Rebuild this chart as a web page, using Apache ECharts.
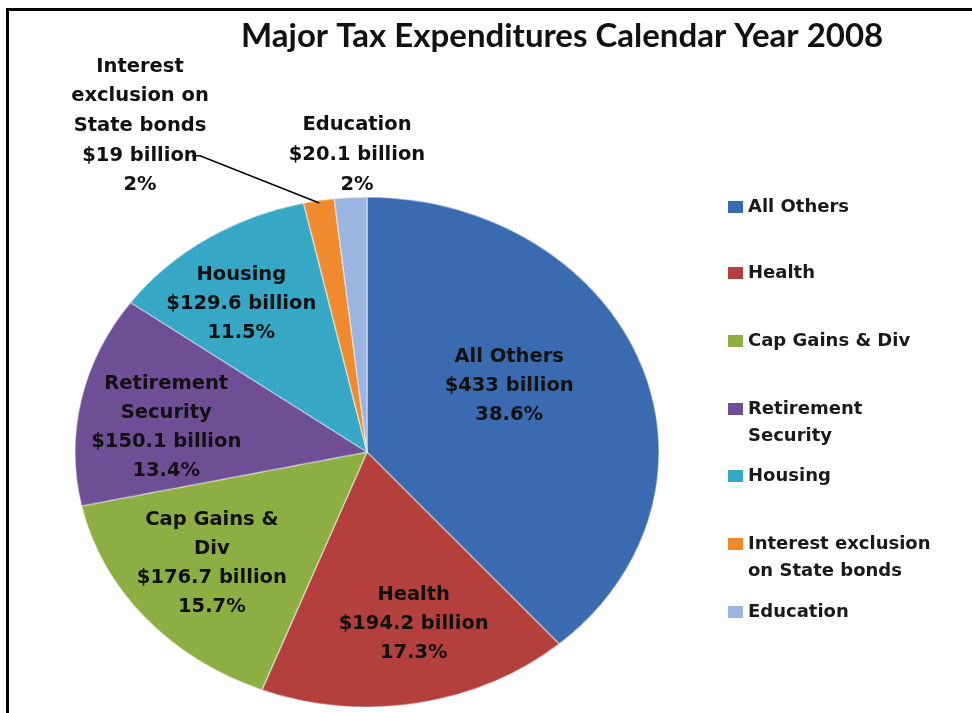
<!DOCTYPE html>
<html><head><meta charset="utf-8">
<script src="https://cdn.jsdelivr.net/npm/echarts@6/dist/echarts.min.js"></script>
<style>
html,body{margin:0;padding:0;background:#fff;}
#wrap{position:relative;width:972px;height:713px;overflow:hidden;background:#fff;}
#pie{position:absolute;left:0;top:0;width:972px;height:820px;transform:scaleY(0.8733);transform-origin:367px 452px;}
#main{position:absolute;left:0;top:0;width:972px;height:713px;}
#frame{position:absolute;left:6px;top:8px;right:-10px;bottom:-10px;border-top:3px solid #000;border-left:3px solid #000;pointer-events:none;}
</style></head><body>
<div id="wrap"><div id="pie"></div><div id="main"></div><div id="frame"></div></div>
<script>
// ---- data ----
const categories = ['All Others','Health','Cap Gains & Div','Retirement Security','Housing','Interest exclusion on State bonds','Education'];
const values = [433, 194.2, 176.7, 150.1, 129.6, 19, 20.1];           // $ billion
const percentLabels = ['38.6%','17.3%','15.7%','13.4%','11.5%','2%','2%'];
const sliceLabelNames = ['All Others','Health','Cap Gains &\nDiv','Retirement\nSecurity','Housing','Interest\nexclusion on\nState bonds','Education'];
const legendLabelNames = ['All Others','Health','Cap Gains & Div','Retirement\nSecurity','Housing','Interest exclusion\non State bonds','Education'];
const titleText = 'Major Tax Expenditures Calendar Year 2008';

// ---- styles / layout ----
const colors = ['#3A6BB1','#B3403C','#8CAE42','#6E4F96','#36A7C4','#F08A2E','#9CB5E0'];
const FONT = 'DejaVu Sans';
const CX = 367, CY = 452, RX = 292, RY = 255;
const insideShift = [[20,-20],[24,43],[-56,27],[-73,2],[-54,-39]];
const outsidePos = {5:[140,126], 6:[357,155]};
const legendCenters = [207,273,341,409,476,544,612];
const LEG_LH = 27;

const total = values.reduce((a,b)=>a+b,0);
function midFraction(i){ let s=0; for(let k=0;k<i;k++) s+=values[k]; return (s + values[i]/2)/total; }

// ellipse pie (drawn circular, squashed by CSS)
const pieChart = echarts.init(document.getElementById('pie'), null, {renderer:'canvas'});
pieChart.setOption({
  animation:false,
  series:[{
    type:'pie', silent:true, center:[CX,CY], radius:RX, startAngle:90, clockwise:true,
    label:{show:false}, labelLine:{show:false},
    itemStyle:{borderColor:'rgba(255,255,255,0.45)', borderWidth:1.5},
    data: categories.map((n,i)=>({name:n, value:values[i], itemStyle:{color:colors[i]}}))
  }]
});

// foreground: title, legend, labels
const chart = echarts.init(document.getElementById('main'), null, {renderer:'canvas'});
const legends = categories.map((n,i)=>{
  const twoLine = legendLabelNames[i].indexOf('\n') >= 0;
  return {
    orient:'vertical', left:728, padding:0,
    top: legendCenters[i] - (twoLine ? 1.5 : 0.5) * LEG_LH,
    itemWidth:15, itemHeight:12, icon:'rect', selectedMode:false,
    textStyle:{fontFamily:FONT, fontWeight:'bold', fontSize:18, color:'#1a1a1a', lineHeight:LEG_LH},
    formatter: () => (twoLine ? '\n' : '') + legendLabelNames[i],
    data:[{name:n, itemStyle:{color:colors[i], opacity:1, borderWidth:0}}]
  };
});
chart.setOption({
  animation:false,
  backgroundColor:'transparent',
  title:{text:titleText, left:236, top:15,
    textStyle:{fontFamily:'Lato', fontWeight:'bold', fontSize:33, color:'#111'}},
  legend: legends,
  series:[{
    type:'pie', silent:true, center:[CX,CY], radius:RY, startAngle:90, clockwise:true,
    itemStyle:{color:'rgba(0,0,0,0)', borderWidth:0},
    label:{show:true, position:'inside', color:'#111', fontFamily:FONT, fontWeight:'bold',
      fontSize:19.5, lineHeight:29, align:'center', opacity:1, overflow:'none',
      formatter: p => sliceLabelNames[p.dataIndex] + '\n$' + values[p.dataIndex] + ' billion\n' + percentLabels[p.dataIndex]},
    labelLine:{show:false},
    labelLayout: function(p){
      const i = p.dataIndex;
      if (outsidePos[i]) {
        const o = {x:outsidePos[i][0], y:outsidePos[i][1], align:'center', verticalAlign:'middle', width:220};
        if (i === 5) {
          const a = midFraction(i) * 2 * Math.PI;
          const edge = [CX + RX * 0.99 * Math.sin(a), CY - RY * 0.99 * Math.cos(a)];
          const lineY = outsidePos[i][1] + 29.7;          // 4th text line
          const rightX = outsidePos[i][0] + 52;
          o.labelLinePoints = [edge, [rightX + 8, lineY], [rightX, lineY]];
        }
        return o;
      }
      return {dx:insideShift[i][0], dy:insideShift[i][1]};
    },
    data: categories.map((n,i)=>{
      const d = {name:n, value:values[i], itemStyle:{color:'rgba(0,0,0,0)'}};
      if (i >= 5) {
        d.label = {position:'outside', fontSize:19.5, lineHeight:29.7, overflow:'none'};
        d.labelLine = {show: i===5, length:10, length2:10, lineStyle:{color:'#000', width:1.5, opacity:1}};
      }
      return d;
    })
  }]
});
</script>
</body></html>
